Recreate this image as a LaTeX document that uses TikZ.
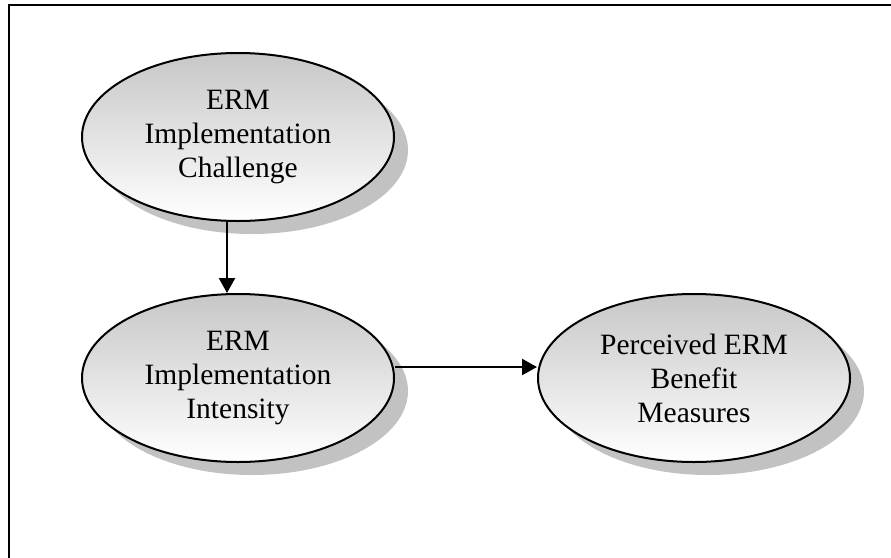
\documentclass[tikz,border=0pt]{standalone}
\usepackage{fontspec}
\setmainfont{Liberation Serif}
\usetikzlibrary{shapes.geometric,shadows,arrows.meta}

\tikzset{
  construct/.style={
    ellipse, draw=black, line width=2pt,
    minimum width=312pt, minimum height=168pt, inner sep=0pt,
    top color=black!22, bottom color=white,
    align=center, font=\fontsize{29.5}{34}\selectfont,
    drop shadow={shadow xshift=14pt, shadow yshift=-13pt,
                 fill=black!24, opacity=1}
  },
  link/.style={line width=2.3pt, -{Triangle[length=15pt,width=16pt]}},
  frame/.style={line width=2.7pt, line cap=rect}
}

\begin{document}
\begin{tikzpicture}[x=1pt, y=-1pt]
  \useasboundingbox (0,0) rectangle (891,557);
  \fill[white] (0,0) rectangle (891,557);

  % outer frame (left and top edges)
  \coordinate (fbl) at (9,570);
  \coordinate (ftl) at (9,5);
  \coordinate (ftr) at (900,5);
  \draw[frame] (fbl) -- (ftl) -- (ftr);

  % constructs
  \node[construct] (chal) at (238,137) {ERM\\Implementation\\Challenge};
  \node[construct] (inten) at (238,378) {ERM\\Implementation\\Intensity};
  \node[construct] (bene) at (694,378) {Perceived ERM\\Benefit\\Measures};

  % relationships
  \draw[link] ([xshift=-11pt]chal.south) -- ([xshift=-11pt]inten.north);
  \draw[link] ([yshift=11pt]inten.east) -- ([yshift=11pt]bene.west);
\end{tikzpicture}
\end{document}
